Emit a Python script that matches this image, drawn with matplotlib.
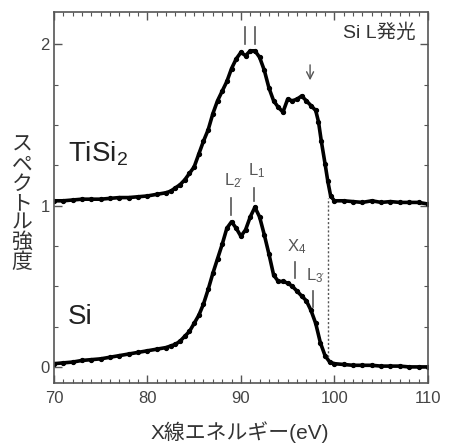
import numpy as np
import matplotlib.pyplot as plt
from matplotlib.ticker import MultipleLocator

plt.rcParams['font.family'] = ['Liberation Sans', 'Noto Sans CJK JP', 'DejaVu Sans']
plt.rcParams['mathtext.default'] = 'regular'

# Si L emission spectrum (bottom curve)
si_x = [70, 71, 72, 73, 74, 75, 76, 77, 78, 79, 80, 81, 82, 82.5, 83, 83.5, 84, 84.5,
        85, 85.5, 86, 86.5, 87, 87.5, 88, 88.5, 89, 89.5, 90, 90.5, 91, 91.5, 92, 92.5,
        93, 93.5, 94, 94.5, 95, 95.5, 96, 96.5, 97, 97.5, 98, 98.5, 99, 99.5, 100,
        101, 102, 103, 104, 105, 106, 107, 108, 109, 110]
si_y = [0.02, 0.025, 0.03, 0.04, 0.045, 0.05, 0.06, 0.07, 0.08, 0.09, 0.10, 0.11, 0.12,
        0.13, 0.14, 0.16, 0.19, 0.22, 0.27, 0.32, 0.39, 0.48, 0.58, 0.67, 0.76, 0.86,
        0.90, 0.86, 0.81, 0.85, 0.93, 0.99, 0.93, 0.82, 0.70, 0.57, 0.53, 0.53, 0.52,
        0.50, 0.47, 0.44, 0.41, 0.35, 0.27, 0.15, 0.07, 0.03, 0.02,
        0.015, 0.01, 0.01, 0.01, 0.005, 0.005, 0.005, 0.0, 0.0, 0.0]

# TiSi2 spectrum (upper curve, offset by 1)
ti_x = [70, 71, 72, 73, 74, 75, 76, 77, 78, 79, 80, 81, 82, 82.5, 83, 83.5, 84, 84.5,
        85, 85.5, 86, 86.5, 87, 87.5, 88, 88.5, 89, 89.5, 90, 90.5, 91, 91.5, 92, 92.5,
        93, 93.5, 94, 94.5, 95, 95.5, 96, 96.5, 97, 97.5, 98, 98.3, 98.6, 99, 99.3,
        99.6, 100, 101, 102, 103, 104, 105, 106, 107, 108, 109, 110]
ti_y = [1.03, 1.03, 1.035, 1.04, 1.04, 1.04, 1.045, 1.05, 1.05, 1.055, 1.06, 1.07, 1.08,
        1.09, 1.11, 1.13, 1.16, 1.20, 1.24, 1.32, 1.40, 1.47, 1.57, 1.65, 1.71, 1.77,
        1.85, 1.91, 1.95, 1.93, 1.96, 1.96, 1.92, 1.84, 1.73, 1.65, 1.61, 1.58, 1.66,
        1.65, 1.66, 1.68, 1.65, 1.62, 1.59, 1.52, 1.40, 1.26, 1.15, 1.06, 1.03,
        1.03, 1.025, 1.02, 1.03, 1.02, 1.025, 1.02, 1.02, 1.02, 1.01]

# peak markers: (x, y_bottom, y_top, label, label_y)
marks = [(88.95, 0.94, 1.05, r"L$_{2'}$", 1.10),
         (91.45, 1.03, 1.11, r"L$_1$", 1.16),
         (95.75, 0.55, 0.65, r"X$_4$", 0.69),
         (97.7, 0.37, 0.47, r"L$_{3'}$", 0.51)]
top_bars = [90.45, 91.5]
edge_x = 99.3

gray = '#555555'
fig = plt.figure(figsize=(4.49, 4.48), dpi=100)
ax = fig.add_axes([0.120, 0.145, 0.833, 0.828])

ax.plot(ti_x, ti_y, '-o', color='black', lw=2.6, ms=2.8)
ax.plot(si_x, si_y, '-o', color='black', lw=2.6, ms=2.8)
ax.plot([edge_x, edge_x], [0.06, 1.05], color=gray, lw=1, ls=(0, (1.5, 1.5)))

for x, y0, y1, lab, ly in marks:
    ax.plot([x, x], [y0, y1], color=gray, lw=1.2)
    ax.text(x + 0.25, ly, lab, color=gray, fontsize=12, ha='center', va='bottom')
for x in top_bars:
    ax.plot([x, x], [2.0, 2.11], color=gray, lw=1.2)
ax.annotate('', xy=(97.4, 1.76), xytext=(97.4, 1.89),
            arrowprops=dict(arrowstyle='->,head_length=0.5,head_width=0.25',
                            color=gray, lw=1))

ax.text(71.5, 1.32, r"TiSi$_2$", fontsize=20, color='#222222', va='center')
ax.text(71.5, 0.31, "Si", fontsize=20, color='#222222', va='center')
ax.text(108.7, 2.07, "Si L発光", fontsize=14, color='#333333', ha='right', va='center')

ax.set_xlim(70, 110)
ax.set_ylim(-0.1, 2.2)
ax.set_xticks([70, 80, 90, 100, 110])
ax.set_yticks([0, 1, 2])
ax.xaxis.set_minor_locator(MultipleLocator(1))
ax.yaxis.set_minor_locator(MultipleLocator(0.25))
ax.tick_params(which='both', direction='in', top=True, right=True, color=gray,
               labelcolor='#444444', labelsize=12)
ax.tick_params(which='major', length=6, width=1)
ax.tick_params(which='minor', length=3, width=0.8)
ax.tick_params(axis='x', pad=6)
ax.tick_params(axis='y', pad=3)
for s in ax.spines.values():
    s.set_color(gray)
    s.set_linewidth(1.2)

fig.text(240 / 449, 1 - 432 / 448, "X線エネルギー(eV)", fontsize=15, color='#333333',
         ha='center', va='center')
fig.text(22 / 449, 1 - 204 / 448, "ス\nペ\nク\nト\nル\n強\n度", fontsize=15,
         color='#333333', ha='center', va='center', linespacing=1.02)

fig.savefig('out.png', dpi=100)
